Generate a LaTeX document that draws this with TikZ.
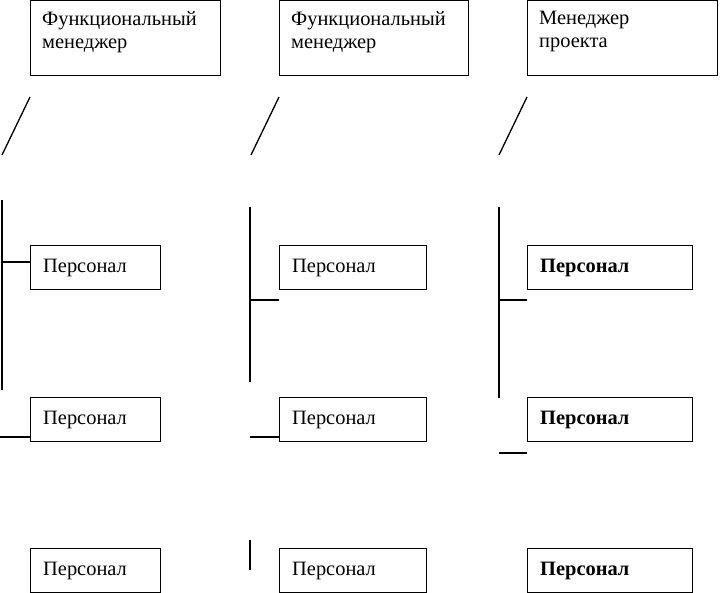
\documentclass[tikz,border=0pt]{standalone}
\usepackage{fontspec}
\setmainfont{Liberation Serif}
\begin{document}
\begin{tikzpicture}[x=1bp,y=-1bp,
  box/.style={draw,line width=1.3bp,anchor=north west,inner sep=0pt},
  ln/.style={line width=1.3bp},
  txt/.style={anchor=north west,inner sep=0pt,font=\fontsize{20.5pt}{23.5pt}\selectfont,align=left}]
\useasboundingbox (0,0) rectangle (720,593);
% top boxes
\foreach \n/\x/\w/\t in {m1/30/190/{Функциональный\\менеджер},m2/279/189/{Функциональный\\менеджер},m3/527/190/{Менеджер\\проекта}}{
  \node[box,minimum width=\w bp,minimum height=75bp] (\n) at (\x,0) {};
  \node[txt] (\n t) at (\x+12,11) {\t};
}
% slashes
\foreach \x [count=\i] in {30,279,527}{
  \coordinate (sa\i) at (\x,97); \coordinate (sb\i) at (\x-28,155);
  \draw[ln] (sa\i) -- (sb\i);
}
% personnel boxes
\foreach \c/\x/\w/\f in {1/30/130/\normalfont,2/279/147/\normalfont,3/527/165/\bfseries}{
  \foreach \r/\y in {1/245,2/397,3/548}{
    \node[box,minimum width=\w bp,minimum height=44bp] (p\c\r) at (\x,\y) {};
    \node[anchor=west,inner sep=0pt,font=\fontsize{20.5pt}{23pt}\selectfont\f] (p\c\r t) at (\x+13,\y+23) {Персонал};
  }
}
% column 1 lines
\coordinate (a1) at (2,200); \coordinate (a2) at (2,390);
\draw[ln] (a1) -- (a2);
\coordinate (a3) at (2,262); \draw[ln] (a3) -- (p11.west|-a3);
\coordinate (a4) at (0,437); \draw[ln] (a4) -- (p12.west|-a4);
% column 2
\coordinate (b1) at (250,207); \coordinate (b2) at (250,382);
\draw[ln] (b1) -- (b2);
\coordinate (b3) at (250,300); \draw[ln] (b3) -- (p21.west|-b3);
\coordinate (b4) at (250,437); \draw[ln] (b4) -- (p22.west|-b4);
\coordinate (b5) at (250,540); \coordinate (b6) at (250,570); \draw[ln] (b5) -- (b6);
% column 3
\coordinate (c1) at (499,207); \coordinate (c2) at (499,398);
\draw[ln] (c1) -- (c2);
\coordinate (c3) at (499,300); \draw[ln] (c3) -- (p31.west|-c3);
\coordinate (c4) at (499,453); \coordinate (c5) at (527,453); \draw[ln] (c4) -- (c5);
\end{tikzpicture}
\end{document}
